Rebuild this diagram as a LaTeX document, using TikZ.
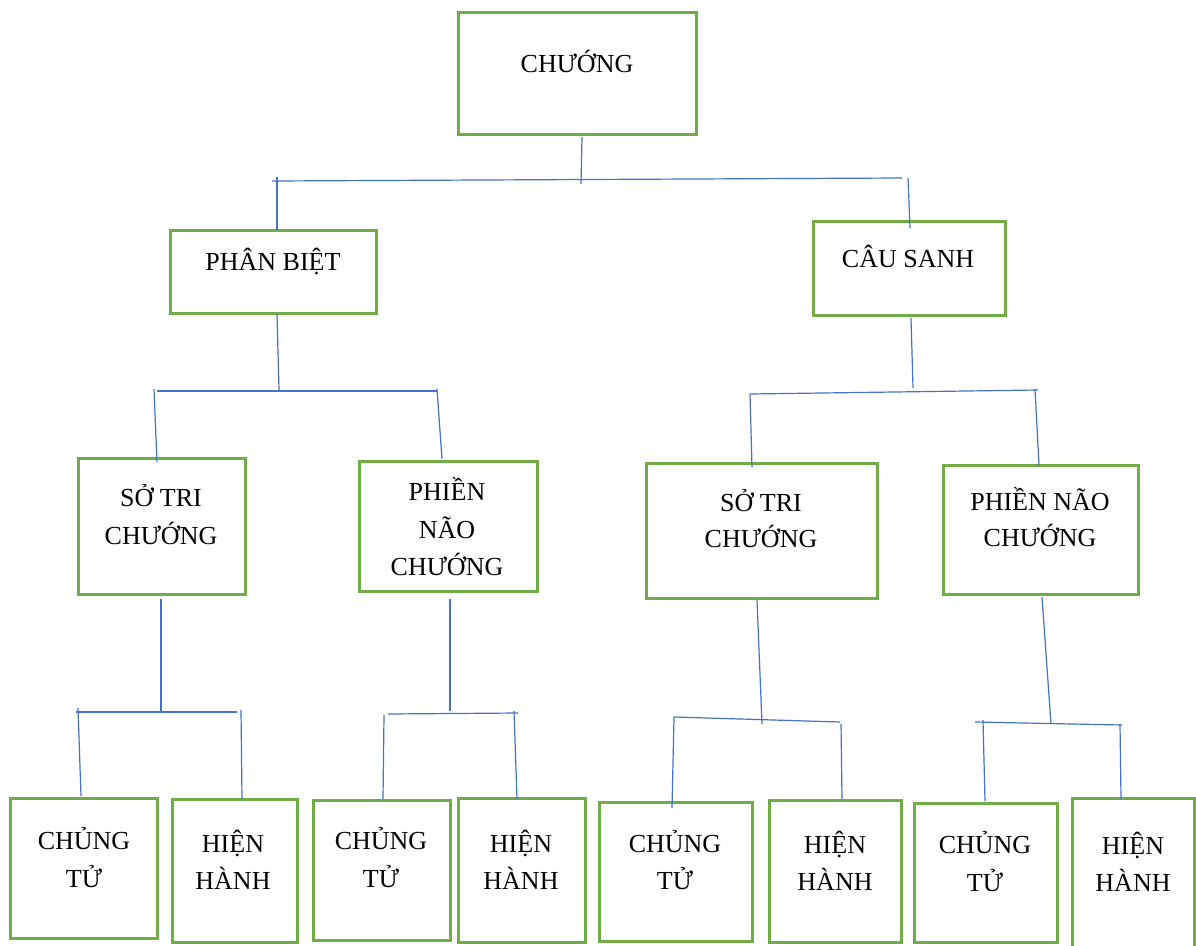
\documentclass[tikz,border=0pt]{standalone}
\usepackage{fontspec}
\setmainfont{Liberation Serif}
\definecolor{gbox}{RGB}{112,173,71}
\definecolor{bline}{RGB}{68,114,196}
\newcommand\mybox[5]{\node[box,minimum width={#4-#2},minimum height={#5-#3}] (#1) at ({(#2+#4)/2},{(#3+#5)/2}) {};}
\newcommand\txtline[4]{\node[txt] (#1) at (#2,#3) {#4};}
\begin{document}
\begin{tikzpicture}[x=1pt,y=-1pt,
  box/.style={draw=gbox,line width=3pt,inner sep=0pt,rectangle,fill=none},
  txt/.style={font=\fontsize{26}{31}\selectfont,inner sep=0pt,anchor=base},
  conn/.style={draw=bline,line width=1.2pt}]
\useasboundingbox (0,0) rectangle (1196,945);
\fill[white] (0,0) rectangle (1196,945);

% boxes
\mybox{root}{458}{12}{696}{134}
\mybox{pb}{170}{230}{376}{313}
\mybox{cs}{813}{221}{1005}{315}
\mybox{stL}{78}{458}{245}{594}
\mybox{pnL}{359}{461}{537}{591}
\mybox{stR}{646}{463}{877}{598}
\mybox{pnR}{943}{465}{1138}{594}
\mybox{ct1}{10}{798}{157}{938}
\mybox{hh1}{172}{799}{297}{942}
\mybox{ct2}{313}{800}{450}{940}
\mybox{hh2}{458}{798}{585}{942}
\mybox{ct3}{599}{802}{752}{941}
\mybox{hh3}{769}{800}{901}{942}
\mybox{ct4}{914}{803}{1057}{942}
\mybox{hh4}{1072}{798}{1194}{960}

% texts
\txtline{t0}{577}{72}{CHƯỚNG}
\txtline{t1}{273}{270}{PHÂN BIỆT}
\txtline{t2}{908}{267}{CÂU SANH}
\txtline{t3a}{161}{506}{SỞ TRI}
\txtline{t3b}{161}{544}{CHƯỚNG}
\txtline{t4a}{447}{500}{PHIỀN}
\txtline{t4b}{447}{538}{NÃO}
\txtline{t4c}{447}{575}{CHƯỚNG}
\txtline{t5a}{761}{511}{SỞ TRI}
\txtline{t5b}{761}{547}{CHƯỚNG}
\txtline{t6a}{1040}{510}{PHIỀN NÃO}
\txtline{t6b}{1040}{546}{CHƯỚNG}
\txtline{t7a}{84}{849}{CHỦNG}
\txtline{t7b}{84}{887}{TỬ}
\txtline{t8a}{233}{852}{HIỆN}
\txtline{t8b}{233}{889}{HÀNH}
\txtline{t9a}{381}{849}{CHỦNG}
\txtline{t9b}{381}{887}{TỬ}
\txtline{t10a}{521}{852}{HIỆN}
\txtline{t10b}{521}{889}{HÀNH}
\txtline{t11a}{675}{852}{CHỦNG}
\txtline{t11b}{675}{889}{TỬ}
\txtline{t12a}{835}{853}{HIỆN}
\txtline{t12b}{835}{890}{HÀNH}
\txtline{t13a}{985}{853}{CHỦNG}
\txtline{t13b}{985}{891}{TỬ}
\txtline{t14a}{1133}{854}{HIỆN}
\txtline{t14b}{1133}{891}{HÀNH}

% level 1 connectors
\coordinate (s0a) at (582,137); \coordinate (s0b) at (581,184);
\coordinate (h0l) at (272,181); \coordinate (h0r) at (902,178);
\coordinate (v0la) at (277,177); \coordinate (v0lb) at (277,230);
\coordinate (v0ra) at (908,178); \coordinate (v0rb) at (910,228);
\draw[conn] (s0a) -- (s0b);
\draw[conn] (h0l) -- (h0r);
\draw[conn] (v0la) -- (v0lb);
\draw[conn] (v0ra) -- (v0rb);

% level 2 left
\coordinate (s1a) at (277,314); \coordinate (s1b) at (279,390);
\coordinate (h1l) at (157,391); \coordinate (h1r) at (437,391);
\coordinate (v1la) at (154,389); \coordinate (v1lb) at (157,462);
\coordinate (v1ra) at (437,389); \coordinate (v1rb) at (442,459);
\draw[conn] (s1a) -- (s1b);
\draw[conn] (h1l) -- (h1r);
\draw[conn] (v1la) -- (v1lb);
\draw[conn] (v1ra) -- (v1rb);

% level 2 right
\coordinate (s2a) at (911,318); \coordinate (s2b) at (913,388);
\coordinate (h2l) at (750,394); \coordinate (h2r) at (1038,390);
\coordinate (v2la) at (750,394); \coordinate (v2lb) at (752,467);
\coordinate (v2ra) at (1035,389); \coordinate (v2rb) at (1039,465);
\draw[conn] (s2a) -- (s2b);
\draw[conn] (h2l) -- (h2r);
\draw[conn] (v2la) -- (v2lb);
\draw[conn] (v2ra) -- (v2rb);

% level 3: so tri L
\coordinate (s3a) at (161,599); \coordinate (s3b) at (161,712);
\coordinate (h3l) at (76,712); \coordinate (h3r) at (237,712);
\coordinate (v3la) at (78,708); \coordinate (v3lb) at (81,796);
\coordinate (v3ra) at (241,710); \coordinate (v3rb) at (242,799);
\draw[conn] (s3a) -- (s3b);
\draw[conn] (h3l) -- (h3r);
\draw[conn] (v3la) -- (v3lb);
\draw[conn] (v3ra) -- (v3rb);

% level 3: phien nao L
\coordinate (s4a) at (450,599); \coordinate (s4b) at (450,711);
\coordinate (h4l) at (388,714); \coordinate (h4r) at (518,713);
\coordinate (v4la) at (384,715); \coordinate (v4lb) at (383,799);
\coordinate (v4ra) at (514,711); \coordinate (v4rb) at (517,799);
\draw[conn] (s4a) -- (s4b);
\draw[conn] (h4l) -- (h4r);
\draw[conn] (v4la) -- (v4lb);
\draw[conn] (v4ra) -- (v4rb);

% level 3: so tri R
\coordinate (s5a) at (757,600); \coordinate (s5b) at (762,724);
\coordinate (h5l) at (674,717); \coordinate (h5r) at (840,722);
\coordinate (v5la) at (674,717); \coordinate (v5lb) at (672,808);
\coordinate (v5ra) at (841,724); \coordinate (v5rb) at (842,799);
\draw[conn] (s5a) -- (s5b);
\draw[conn] (h5l) -- (h5r);
\draw[conn] (v5la) -- (v5lb);
\draw[conn] (v5ra) -- (v5rb);

% level 3: phien nao R
\coordinate (s6a) at (1042,597); \coordinate (s6b) at (1051,724);
\coordinate (h6l) at (975,722); \coordinate (h6r) at (1122,725);
\coordinate (v6la) at (983,720); \coordinate (v6lb) at (985,801);
\coordinate (v6ra) at (1120,724); \coordinate (v6rb) at (1121,799);
\draw[conn] (s6a) -- (s6b);
\draw[conn] (h6l) -- (h6r);
\draw[conn] (v6la) -- (v6lb);
\draw[conn] (v6ra) -- (v6rb);
\end{tikzpicture}
\end{document}
